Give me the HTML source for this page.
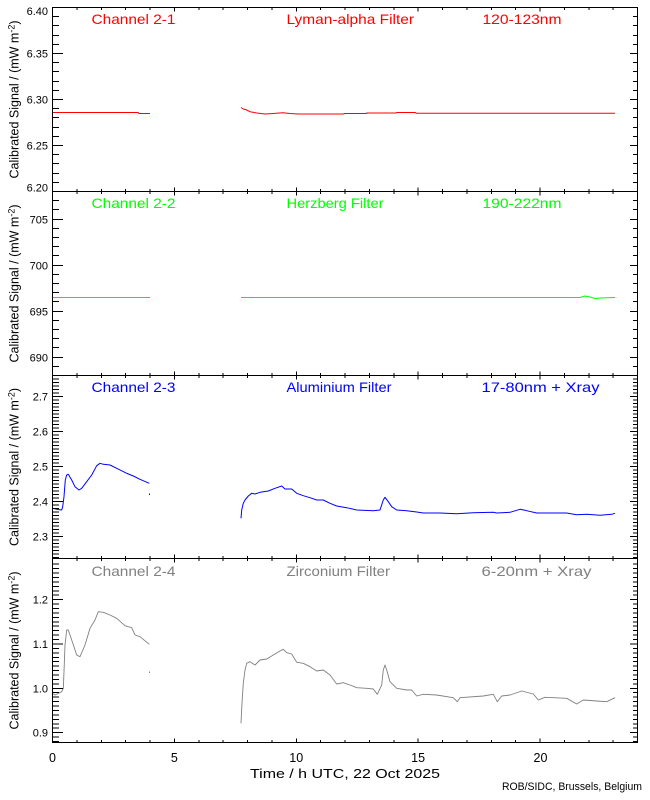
<!DOCTYPE html>
<html>
<head>
<meta charset="utf-8">
<style>
  html, body { margin: 0; padding: 0; background: #ffffff; }
  svg { display: block; }
  text { font-family: "Liberation Sans", "DejaVu Sans", sans-serif; }
</style>
</head>
<body>
<svg width="650" height="800" viewBox="0 0 650 800" xmlns="http://www.w3.org/2000/svg">
  <rect x="0" y="0" width="650" height="800" fill="#ffffff"/>
  <defs>
    <clipPath id="plotclip"><rect x="52" y="7" width="586" height="736"/></clipPath>
    <path id="xt" d="M76.9-2.5v5M101.25-2.5v5M125.6-2.5v5M150-2.5v5M174.4-4v8M198.75-2.5v5M223.1-2.5v5M247.5-2.5v5M271.9-2.5v5M296.25-4v8M320.6-2.5v5M345-2.5v5M369.4-2.5v5M393.75-2.5v5M418.1-4v8M442.5-2.5v5M466.9-2.5v5M491.25-2.5v5M515.6-2.5v5M540-4v8M564.4-2.5v5M588.75-2.5v5M613.1-2.5v5"/>
    <path id="yt" d="
      M52 7.5h11M52 53.5h11M52 99.5h11M52 145.5h11M52 191.5h11
      M52 16.5h7M52 25.5h7M52 35.5h7M52 44.5h7M52 62.5h7M52 71.5h7M52 81.5h7M52 90.5h7
      M52 108.5h7M52 117.5h7M52 127.5h7M52 136.5h7M52 154.5h7M52 163.5h7M52 173.5h7M52 182.5h7
      M52 219.5h11M52 265.5h11M52 311.5h11M52 357.5h11
      M52 200.5h7M52 209.5h7M52 228.5h7M52 237.5h7M52 246.5h7M52 255.5h7M52 274.5h7M52 283.5h7
      M52 292.5h7M52 301.5h7M52 320.5h7M52 329.5h7M52 338.5h7M52 347.5h7M52 366.5h7
      M52 396.7h11M52 431.7h11M52 466.7h11M52 501.7h11M52 536.7h11
      M52 379.2h7M52 382.7h7M52 386.2h7M52 389.7h7M52 393.2h7
      M52 400.2h7M52 403.7h7M52 407.2h7M52 410.7h7M52 414.2h7M52 417.7h7M52 421.2h7M52 424.7h7M52 428.2h7
      M52 435.2h7M52 438.7h7M52 442.2h7M52 445.7h7M52 449.2h7M52 452.7h7M52 456.2h7M52 459.7h7M52 463.2h7
      M52 470.2h7M52 473.7h7M52 477.2h7M52 480.7h7M52 484.2h7M52 487.7h7M52 491.2h7M52 494.7h7M52 498.2h7
      M52 505.2h7M52 508.7h7M52 512.2h7M52 515.7h7M52 519.2h7M52 522.7h7M52 526.2h7M52 529.7h7M52 533.2h7
      M52 540.2h7M52 543.7h7M52 547.2h7M52 550.7h7M52 554.2h7M52 557.7h7
      M52 599.6h11M52 644h11M52 688.3h11M52 732.6h11
      M52 564.2h7M52 568.6h7M52 573.1h7M52 577.5h7M52 581.9h7M52 586.3h7M52 590.8h7M52 595.2h7
      M52 604.1h7M52 608.5h7M52 612.9h7M52 617.4h7M52 621.8h7M52 626.2h7M52 630.7h7M52 635.1h7M52 639.5h7
      M52 648.4h7M52 652.8h7M52 657.3h7M52 661.7h7M52 666.1h7M52 670.6h7M52 675h7M52 679.4h7M52 683.9h7
      M52 692.7h7M52 697.1h7M52 701.6h7M52 706h7M52 710.5h7M52 714.9h7M52 719.3h7M52 723.8h7M52 728.2h7
      M52 737h7M52 741.5h7"/>
  </defs>

  <!-- Data series -->
  <g fill="none" stroke-width="1" stroke-linejoin="round">
    <!-- Panel 1: red -->
    <path stroke="#ff0000" shape-rendering="crispEdges" d="M52.5 112.5H138L139 113.5H150"/>
    <path stroke="#ff0000" d="M241 107.5L243.3 109L246.7 110L250 111.7L256.7 113L265 114L273 113.5L283 112.7L290 113.5L298 114H343L345 113.5H366L367 113H396L397 112.5H415L416.7 113.3H615"/>
    <!-- Panel 2: green -->
    <path stroke="#00ff00" shape-rendering="crispEdges" d="M52.5 297.5H150"/>
    <path stroke="#00ff00" shape-rendering="crispEdges" d="M241 297.5H580"/>
    <path stroke="#00ff00" d="M580 297.5L585 296L590 297L595 298.5L600 298L615 297.5"/>
    <!-- Panel 3: blue -->
    <path stroke="#0000ff" d="M52.5 508.3L58 509.5L61.7 510L62.7 506.7L64 496.7L65.3 480L66.7 475L68.3 474.3L71.7 480L75 486.7L79 490L81.7 488.3L86.7 481.7L91.7 475L96.7 465.7L100 463.3L103.3 464.3L110 465L116.7 468.3L126.7 473.3L133.3 476L140 479.3L149.3 483.3"/>
    <rect x="149" y="493.5" width="1" height="1.5" fill="#0000ff" stroke="none"/>
    <path stroke="#0000ff" d="M241 518.3L241.7 510L243.3 503.3L245 500L248.3 496L251.7 493.3L255 494L260 492.3L268.3 491L275 488.3L281.7 486L285 489L291.7 489L296.7 493.3L303.3 495.7L310 497.7L316.7 500L323.3 500L330 503.3L336.7 506L346.7 507.7L356.7 510L373.3 510.7L380 510L383.3 500L385 497.3L388.3 501.7L391.7 506.7L396.7 510L406.7 510.7L416.7 512L423.3 513L440 513L456.7 513.7L473.3 512.7L493.3 512.3L496.7 513L510 512.3L520 509.3L525 510.3L536.7 513L566.7 513L576.7 514.7L586.7 514.3L600 515.3L611.7 514.3L615 513.3"/>
    <!-- Panel 4: gray -->
    <path stroke="#808080" stroke-width="0.9" d="M52.5 693.3L55 695L61.7 691.7L63.3 688.3L64 671.7L65 645L66.7 630L68.3 630L71.7 640L76.7 655L80 656.7L85 645L90 628.3L95 620L98.3 611.7L103.3 612.3L110 615L116.7 618.3L125 625.7L131.7 627.7L135 635L140 636.7L149.3 644.3"/>
    <rect x="149" y="671.5" width="1" height="1.5" fill="#808080" stroke="none"/>
    <path stroke="#808080" stroke-width="0.9" d="M241 723.3L241.7 708.3L242.3 698.3L243.3 683.3L245 670L246.7 663.3L250 661.7L255 665L260 660L266.7 659L273.3 655L280 651L283.3 649.3L286.7 652.7L291.7 654L296.7 662.3L303.3 663.3L310 666.7L316.7 671L323.3 670L330 675L336.7 684L343.3 682.7L350 685L356.7 687.7L366.7 688.3L373.3 689L377.3 694.3L381.7 685L383.3 670L385 665L386.7 670L390 681.7L396.7 688.3L406.7 690L411.7 690L416.7 696L423.3 694.3L436.7 695L453.3 697.7L457.3 701.7L460 697.7L483.3 696L493.3 694.3L497.3 701.7L501.7 696L510 695L521.7 691L533.3 694L538.3 700L545 697.3L566.7 698.3L576.7 704L583.3 700L596.7 701L606.7 701.7L615 697.7"/>
  </g>

  <!-- Frame -->
  <g stroke="#000000" stroke-width="1" fill="none" shape-rendering="crispEdges">
    <rect x="52.5" y="7.5" width="585" height="735"/>
    <path d="M52.5 191.5H637.5M52.5 375.5H637.5M52.5 558.5H637.5"/>
  </g>

  <!-- Ticks -->
  <g stroke="#000000" stroke-width="1" fill="none" shape-rendering="crispEdges" clip-path="url(#plotclip)">
    <use href="#xt" transform="translate(0,7.5)"/>
    <use href="#xt" transform="translate(0,191.5)"/>
    <use href="#xt" transform="translate(0,375.5)"/>
    <use href="#xt" transform="translate(0,558.5)"/>
    <use href="#xt" transform="translate(0,742.5)"/>
    <use href="#yt"/>
    <use href="#yt" transform="translate(675.8,0) scale(-0.727,1)"/>
  </g>

  <!-- Panel titles -->
  <g font-size="14">
    <text x="91.5" y="24" fill="#ff0000" textLength="84" lengthAdjust="spacingAndGlyphs">Channel 2-1</text>
    <text x="286.5" y="24" fill="#ff0000" textLength="127.5" lengthAdjust="spacingAndGlyphs">Lyman-alpha Filter</text>
    <text x="482.5" y="24" fill="#ff0000" textLength="79" lengthAdjust="spacingAndGlyphs">120-123nm</text>

    <text x="91.5" y="208" fill="#00ff00" textLength="84" lengthAdjust="spacingAndGlyphs">Channel 2-2</text>
    <text x="286.5" y="208" fill="#00ff00" textLength="97" lengthAdjust="spacingAndGlyphs">Herzberg Filter</text>
    <text x="482.5" y="208" fill="#00ff00" textLength="79" lengthAdjust="spacingAndGlyphs">190-222nm</text>

    <text x="91.5" y="392" fill="#0000ff" textLength="84" lengthAdjust="spacingAndGlyphs">Channel 2-3</text>
    <text x="286.5" y="392" fill="#0000ff" textLength="105" lengthAdjust="spacingAndGlyphs">Aluminium Filter</text>
    <text x="481.5" y="392" fill="#0000ff" textLength="118" lengthAdjust="spacingAndGlyphs">17-80nm + Xray</text>

    <text x="91.5" y="576" fill="#808080" textLength="84" lengthAdjust="spacingAndGlyphs">Channel 2-4</text>
    <text x="286.5" y="576" fill="#808080" textLength="103.5" lengthAdjust="spacingAndGlyphs">Zirconium Filter</text>
    <text x="481.5" y="576" fill="#808080" textLength="110" lengthAdjust="spacingAndGlyphs">6-20nm + Xray</text>
  </g>

  <!-- Y tick labels -->
  <g font-size="11" fill="#000000" text-anchor="end">
    <text x="48" y="15">6.40</text>
    <text x="48" y="57.5">6.35</text>
    <text x="48" y="103.5">6.30</text>
    <text x="48" y="149.5">6.25</text>
    <text x="48" y="191.5">6.20</text>

    <text x="48" y="223.3">705</text>
    <text x="48" y="269.3">700</text>
    <text x="48" y="315.3">695</text>
    <text x="48" y="361.3">690</text>

    <text x="48" y="400.7">2.7</text>
    <text x="48" y="435.7">2.6</text>
    <text x="48" y="470.7">2.5</text>
    <text x="48" y="505.7">2.4</text>
    <text x="48" y="540.7">2.3</text>

    <text x="48" y="603.6">1.2</text>
    <text x="48" y="648">1.1</text>
    <text x="48" y="692.3">1.0</text>
    <text x="48" y="736.6">0.9</text>
  </g>

  <!-- Y axis titles -->
  <g font-size="12.5" fill="#000000" text-anchor="middle">
    <text transform="translate(18.5,99.5) rotate(-90)">Calibrated Signal / (mW m<tspan font-size="9" dy="-4">-2</tspan><tspan dy="4">)</tspan></text>
    <text transform="translate(18.5,283.5) rotate(-90)">Calibrated Signal / (mW m<tspan font-size="9" dy="-4">-2</tspan><tspan dy="4">)</tspan></text>
    <text transform="translate(18.5,467) rotate(-90)">Calibrated Signal / (mW m<tspan font-size="9" dy="-4">-2</tspan><tspan dy="4">)</tspan></text>
    <text transform="translate(18.5,650.5) rotate(-90)">Calibrated Signal / (mW m<tspan font-size="9" dy="-4">-2</tspan><tspan dy="4">)</tspan></text>
  </g>

  <!-- X tick labels -->
  <g font-size="12.5" fill="#000000" text-anchor="middle">
    <text x="52.5" y="762">0</text>
    <text x="174.4" y="762">5</text>
    <text x="296.25" y="762">10</text>
    <text x="418.1" y="762">15</text>
    <text x="540.5" y="762">20</text>
  </g>

  <!-- X axis title -->
  <text x="250" y="778" font-size="13" fill="#000000" textLength="190" lengthAdjust="spacingAndGlyphs">Time / h UTC, 22 Oct 2025</text>

  <!-- Credit -->
  <text x="502" y="790" font-size="11" fill="#000000" textLength="140" lengthAdjust="spacingAndGlyphs">ROB/SIDC, Brussels, Belgium</text>
</svg>
</body>
</html>
